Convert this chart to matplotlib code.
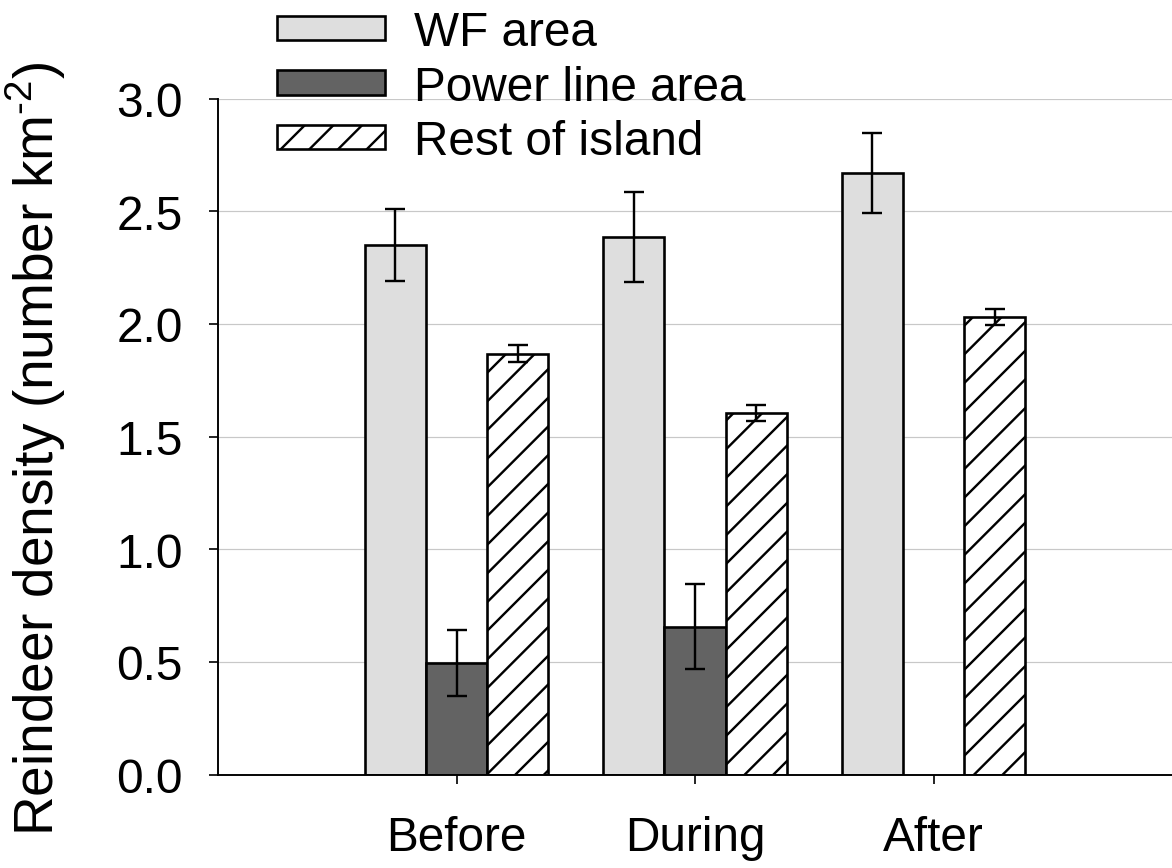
import numpy as np
import matplotlib.pyplot as plt

plt.rcParams['font.family'] = ['Liberation Sans', 'DejaVu Sans']
plt.rcParams['mathtext.fontset'] = 'custom'
plt.rcParams['mathtext.rm'] = 'Liberation Sans'
plt.rcParams['hatch.linewidth'] = 1.0

periods = ['Before', 'During', 'After']
series = ['WF area', 'Power line area', 'Rest of island']

wf_mean = [2.35, 2.385, 2.67]
wf_err = [0.16, 0.20, 0.178]
power_mean = [0.495, 0.656, np.nan]
power_err = [0.145, 0.19, np.nan]
rest_mean = [1.868, 1.603, 2.03]
rest_err = [0.038, 0.036, 0.037]

dpi = 172
fig = plt.figure(figsize=(1172 / dpi, 869 / dpi), dpi=dpi)
ax = fig.add_axes([218 / 1172, 1 - 775.5 / 869, 1 - 218 / 1172, (775.5 - 99.5) / 869])

x = np.arange(len(periods))
w = 0.256
lw = 1.1
ekw = dict(ecolor='black', elinewidth=1.0, capsize=4, capthick=1.0)

ax.bar(x - w, wf_mean, w, color='#dedede', edgecolor='black', linewidth=lw,
       yerr=wf_err, error_kw=ekw, label=series[0])
ax.bar(x, power_mean, w, color='#636363', edgecolor='black', linewidth=lw,
       yerr=power_err, error_kw=ekw, label=series[1])
ax.bar(x + w, rest_mean, w, color='white', edgecolor='black', linewidth=lw,
       hatch='//', yerr=rest_err, error_kw=ekw, label=series[2])

ax.set_xlim(-1, 3)
ax.set_ylim(0, 3.0)
ax.set_yticks(np.arange(0, 3.01, 0.5))
ax.set_yticklabels(['%.1f' % v for v in np.arange(0, 3.01, 0.5)])
ax.set_xticks(x)
ax.set_xticklabels(periods)
ax.yaxis.grid(True, color='#c8c8c8', linewidth=0.5)
ax.set_axisbelow(True)

for s in ['top', 'right']:
    ax.spines[s].set_visible(False)
for s in ['left', 'bottom']:
    ax.spines[s].set_linewidth(0.8)

ax.tick_params(axis='both', labelsize=20, length=3.8, width=0.7, direction='out')
ax.tick_params(axis='y', pad=11)
ax.tick_params(axis='x', pad=13)

ax.set_ylabel('Reindeer density (number km$^{\\text{-2}}$)', fontsize=23)
ax.yaxis.set_label_coords(-0.157, 0.483)

fig.legend(loc='upper left', bbox_to_anchor=(277 / 1172, 1 - 11 / 869), frameon=False,
           fontsize=20, handlelength=2.27, handleheight=0.42, handletextpad=0.6,
           labelspacing=0.2, borderpad=0, borderaxespad=0)

fig.savefig('out.png', dpi=dpi)
